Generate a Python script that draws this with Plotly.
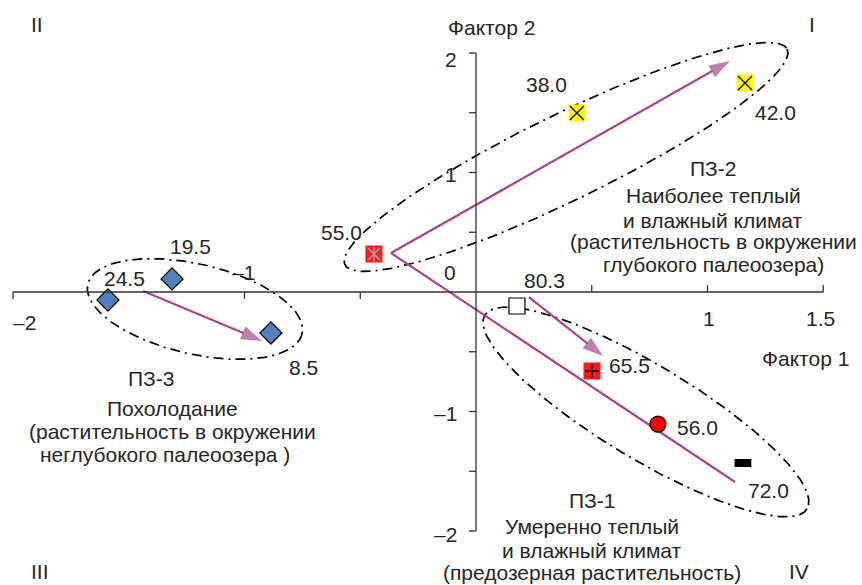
import numpy as np
import plotly.graph_objects as go

W, H = 862, 585
X_RANGE = [-2.0562, 1.6674]
Y_RANGE = [-2.4519, 2.4435]

FONT = "Liberation Sans, Arial, sans-serif"
FS = 21
TXT = "#262626"
ARROW = "#a3478f"

# Sample depths and their factor scores
depth = ["19.5", "24.5", "8.5", "55.0", "38.0", "42.0", "80.3", "65.5", "56.0", "72.0"]
factor1 = [-1.313, -1.590, -0.886, -0.441, 0.436, 1.162, 0.177, 0.501, 0.786, 1.153]
factor2 = [0.109, -0.067, -0.343, 0.318, 1.498, 1.749, -0.117, -0.661, -1.105, -1.431]

# Trend arrows (tail -> head)
arrow_x0 = [-1.438, -0.367, 0.229]
arrow_y0 = [0.008, 0.326, -0.042]
arrow_x1 = [-0.924, 1.097, 0.549]
arrow_y1 = [-0.410, 1.933, -0.536]

# Trend line without head
trend_x = [-0.367, 1.119]
trend_y = [0.326, -1.590]

# Zone outlines: centre and two conjugate half-axis vectors (factor units)
zone_cx = [-1.214, 0.389, 0.734]
zone_cy = [-0.142, 1.130, -1.004]
zone_ux = [0.463, 0.955, 0.696]
zone_uy = [-0.207, 0.902, -0.810]
zone_vx = [-0.0437, 0.0814, -0.1045]
zone_vy = [-0.367, -0.323, -0.337]

# Axis ticks
xticks_down = [-2.0, -1.0, -0.5]
xticks_up = [0.5, 1.0, 1.5]
yticks = [-2.0, -1.5, -1.0, -0.5, 0.5, 1.0, 1.5, 2.0]

# Axis tick labels: value, text, x shift, y shift (px)
xlabels = [(-2.0, "–2", 11, -30), (-1.0, "–1", -1, 20), (0.0, "0", -26, 20),
           (1.0, "1", 1, -26), (1.5, "1.5", -3, -26)]
ylabels = [(2.0, "2", -6), (1.0, "1", -2), (-1.0, "–1", -2), (-2.0, "–2", -3)]

# Label offsets for the sample depths (px, screen right / down)
label_offset = {
    "19.5": (18, -32), "24.5": (17, -22), "8.5": (33, 35), "55.0": (-32, -22),
    "38.0": (-30, -28), "42.0": (30, 30), "80.3": (28, -25), "65.5": (38, -5),
    "56.0": (40, 3), "72.0": (26, 27),
}

fig = go.Figure()

# zone outlines
t = np.linspace(0, 2 * np.pi, 300)
for cx, cy, ux, uy, vx, vy in zip(zone_cx, zone_cy, zone_ux, zone_uy, zone_vx, zone_vy):
    fig.add_trace(go.Scatter(
        x=cx + ux * np.cos(t) + vx * np.sin(t),
        y=cy + uy * np.cos(t) + vy * np.sin(t),
        mode="lines", line=dict(color="black", width=1.7, dash="10px,5px,2px,5px"),
        hoverinfo="skip", showlegend=False))

# trend line and arrows
fig.add_trace(go.Scatter(x=trend_x, y=trend_y, mode="lines",
                         line=dict(color=ARROW, width=2.2), showlegend=False))
for x0, y0, x1, y1 in zip(arrow_x0, arrow_y0, arrow_x1, arrow_y1):
    fig.add_trace(go.Scatter(
        x=[x0, x1], y=[y0, y1], mode="lines+markers",
        line=dict(color=ARROW, width=2.2),
        marker=dict(symbol=["circle", "arrow"], size=[0, 22], color=ARROW,
                    angleref="previous", line=dict(width=0)),
        showlegend=False))


def pts(names):
    idx = [depth.index(n) for n in names]
    return [factor1[i] for i in idx], [factor2[i] for i in idx]


def add_marker(names, **marker):
    xs, ys = pts(names)
    fig.add_trace(go.Scatter(x=xs, y=ys, mode="markers", marker=marker,
                             showlegend=False, hoverinfo="skip"))


add_marker(["19.5", "24.5", "8.5"], symbol="diamond", size=17, color="#4f81bd",
           line=dict(color="black", width=1.2))
add_marker(["55.0"], symbol="square", size=17, color="#ff1a1a", line=dict(width=0))
add_marker(["55.0"], symbol="x-thin-open", size=12, color="#a6a6a6",
           line=dict(color="#a6a6a6", width=1.6))
add_marker(["55.0"], symbol="line-ns-open", size=10, color="#a6a6a6",
           line=dict(color="#a6a6a6", width=1.6))
add_marker(["38.0", "42.0"], symbol="square", size=17, color="#ffff00", line=dict(width=0))
add_marker(["38.0", "42.0"], symbol="x-thin-open", size=14, color="black",
           line=dict(color="black", width=1.3))
add_marker(["80.3"], symbol="square", size=16, color="white", line=dict(color="black", width=1.2))
add_marker(["65.5"], symbol="square", size=17, color="#ff1a1a", line=dict(width=0))
add_marker(["65.5"], symbol="cross-thin-open", size=10, color="black",
           line=dict(color="black", width=1.5))
add_marker(["56.0"], symbol="circle", size=16, color="#ff0000", line=dict(color="black", width=1.2))
add_marker(["72.0"], symbol="line-ew-open", size=12, color="black",
           line=dict(color="black", width=8))

annotations = []
for name, x, y in zip(depth, factor1, factor2):
    dx, dy = label_offset[name]
    annotations.append(dict(x=x, y=y, text=name, showarrow=False, xshift=dx, yshift=-dy,
                            font=dict(size=FS, color=TXT, family=FONT)))

# axes drawn through the origin
shapes = [
    dict(type="line", x0=-2.0, x1=1.5, y0=0, y1=0, xref="x", yref="y",
         line=dict(color="#333333", width=1.3)),
    dict(type="line", x0=0, x1=0, y0=-2.0, y1=2.0, xref="x", yref="y",
         line=dict(color="#333333", width=1.3)),
]
for v in xticks_down + xticks_up:
    sign = -1 if v in xticks_down else 1
    shapes.append(dict(type="line", xref="x", yref="y", x0=v, x1=v,
                       ysizemode="pixel", yanchor=0, y0=0, y1=7 * sign,
                       line=dict(color="#333333", width=1.3)))
for v in yticks:
    shapes.append(dict(type="line", xref="x", yref="y", y0=v, y1=v,
                       xsizemode="pixel", xanchor=0, x0=0, x1=-7,
                       line=dict(color="#333333", width=1.3)))

for v, s, dx, dy in xlabels:
    annotations.append(dict(x=v, y=0, text=s, showarrow=False, xshift=dx, yshift=dy,
                            font=dict(size=FS, color=TXT, family=FONT)))
for v, s, dy in ylabels:
    annotations.append(dict(x=0, y=v, text=s, showarrow=False, xanchor="right",
                            xshift=-17, yshift=dy,
                            font=dict(size=FS, color=TXT, family=FONT)))


def text_at(px, py, s):
    annotations.append(dict(x=px / W, y=1 - py / H, xref="paper", yref="paper",
                            text=s, showarrow=False, xanchor="center", yanchor="middle",
                            font=dict(size=FS, color=TXT, family=FONT)))


# axis titles and quadrant numbers
text_at(491, 27, "Фактор 2")
text_at(805, 358, "Фактор 1")
text_at(37, 25, "II")
text_at(812, 25, "I")
text_at(40, 571, "III")
text_at(799, 571, "IV")

# zone descriptions
for py, s in zip([168, 196, 220, 242, 265],
                 ["ПЗ-2", "Наиболее теплый", "и влажный климат",
                  "(растительность в окружении", "глубокого палеоозера)"]):
    text_at(713, py, s)
for px, py, s in zip([151, 172, 172, 165], [378, 408, 431, 454],
                     ["ПЗ-3", "Похолодание", "(растительность в окружении",
                      "неглубокого палеоозера )"]):
    text_at(px, py, s)
for py, s in zip([500, 526, 550, 572],
                 ["ПЗ-1", "Умеренно теплый", "и влажный климат",
                  "(предозерная растительность)"]):
    text_at(592, py, s)

fig.update_layout(
    width=W, height=H, margin=dict(l=0, r=0, t=0, b=0),
    paper_bgcolor="white", plot_bgcolor="white",
    xaxis=dict(range=X_RANGE, visible=False, fixedrange=True),
    yaxis=dict(range=Y_RANGE, visible=False, fixedrange=True),
    shapes=shapes, annotations=annotations, showlegend=False,
)

fig.write_html("out.html")
